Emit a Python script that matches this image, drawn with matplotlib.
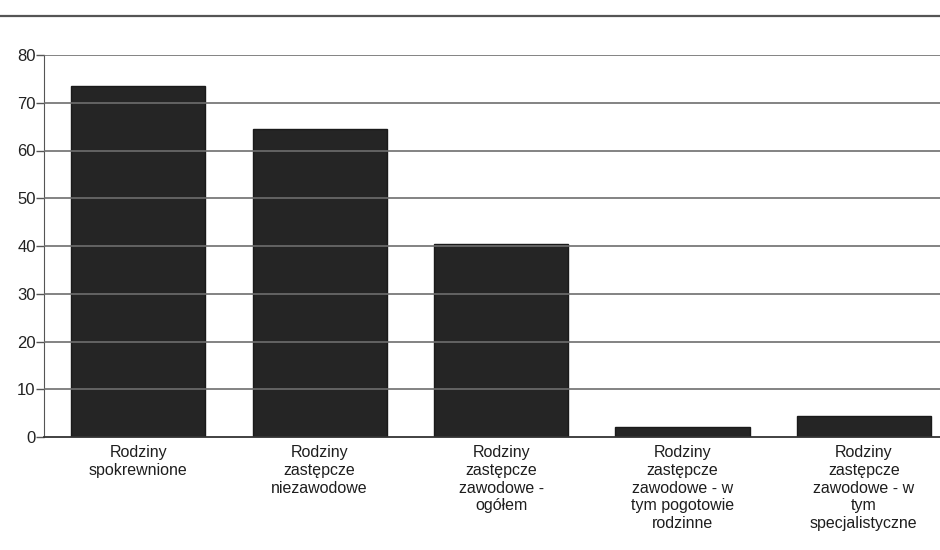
import matplotlib.pyplot as plt

plt.rcParams['font.family'] = ['Liberation Sans', 'DejaVu Sans']

# data
categories = [
    'Rodziny\nspokrewnione',
    'Rodziny\nzastępcze\nniezawodowe',
    'Rodziny\nzastępcze\nzawodowe -\nogółem',
    'Rodziny\nzastępcze\nzawodowe - w\ntym pogotowie\nrodzinne',
    'Rodziny\nzastępcze\nzawodowe - w\ntym\nspecjalistyczne',
]
values = [73.5, 64.5, 40.5, 2, 4.5]
yticks = [0, 10, 20, 30, 40, 50, 60, 70, 80]

fig = plt.figure(figsize=(9.4, 5.5), dpi=100)
ax = fig.add_axes([44 / 940, 113 / 550, 1 - 44 / 940, 382 / 550])

x = list(range(len(categories)))
ax.bar(x, values, width=0.74, color='#252525', edgecolor='#1a1a1a', zorder=2)

# grid lines run over the bars (light on black, dark on white)
for t in yticks[1:]:
    ax.axhline(t, color='#6e6e6e', lw=1.2, zorder=3)

ax.set_xlim(-0.52, 4.42)
ax.set_ylim(0, 80)
ax.set_yticks(yticks)
ax.set_xticks(x)
ax.set_xticklabels(categories, fontsize=11.5, linespacing=1.22, va='top', color='#1e1e1e')
ax.tick_params(axis='x', length=0, pad=6)
ax.tick_params(axis='y', length=6, width=1, color='#555555', labelsize=12, pad=0, labelcolor='#222222')

for side in ['top', 'right']:
    ax.spines[side].set_visible(False)
ax.spines['left'].set_color('#555555')
ax.spines['bottom'].set_color('#333333')
ax.spines['bottom'].set_linewidth(1.3)

# separator line under the (cut off) title
fig.add_artist(plt.Line2D([0, 1], [1 - 16 / 550, 1 - 16 / 550], color='#555555', lw=1.6))

fig.savefig('out.png', dpi=100)
